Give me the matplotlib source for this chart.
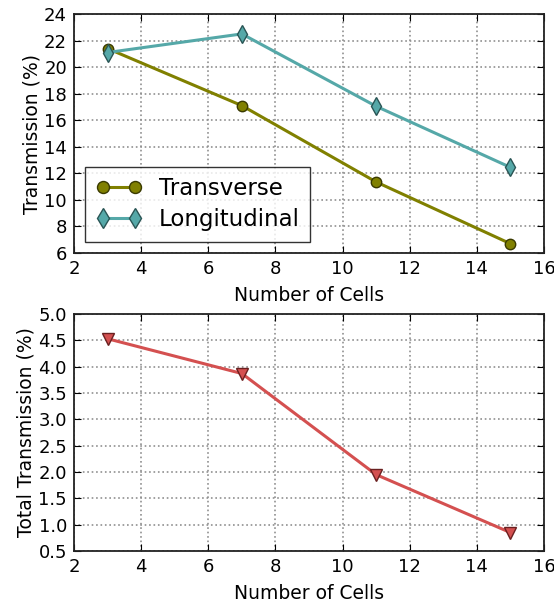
import numpy as np
import matplotlib
matplotlib.use("Agg")
import matplotlib.pyplot as plt

cells = [3, 7, 11, 15]
transverse = [21.4, 17.1, 11.35, 6.7]
longitudinal = [21.1, 22.5, 17.05, 12.45]
total = [4.53, 3.87, 1.95, 0.85]

plt.rcParams["font.family"] = ["DejaVu Sans"]
plt.rcParams["xtick.direction"] = "in"
plt.rcParams["ytick.direction"] = "in"

fig = plt.figure(figsize=(5.54, 6.11), dpi=100)
W, H = 554, 611
ax1 = fig.add_axes([74 / W, 1 - 253 / H, 470 / W, 239 / H])
ax2 = fig.add_axes([74 / W, 1 - 551 / H, 470 / W, 237 / H])

ax1.plot(cells, transverse, "-o", color="#808000", lw=2.2, ms=7.5,
         mfc="#808000", mec="#3a3a00", label="Transverse")
ax1.plot(cells, longitudinal, "-d", color="#55a8a8", lw=2.2, ms=9,
         mfc="#55a8a8", mec="#2a5555", label="Longitudinal")
ax1.set_xlim(2, 16)
ax1.set_ylim(6, 24)
ax1.set_yticks(np.arange(6, 25, 2))
ax1.set_xlabel("Number of Cells", fontsize=13.5, labelpad=6)
ax1.set_ylabel("Transmission (%)", fontsize=13.5, labelpad=2)
leg = ax1.legend(loc="lower left", fontsize=16.5, fancybox=False, numpoints=2,
                 borderaxespad=0.5, handlelength=2.0, handletextpad=0.75,
                 labelspacing=0.35, borderpad=0.45, markerscale=1.15)
leg.get_frame().set_edgecolor("black")
leg.get_frame().set_linewidth(1.0)

ax2.plot(cells, total, "-v", color="#d45050", lw=2.2, ms=8.5,
         mfc="#d45050", mec="#6a2020")
ax2.set_xlim(2, 16)
ax2.set_ylim(0.5, 5.0)
ax2.set_yticks(np.arange(0.5, 5.01, 0.5))
ax2.set_xlabel("Number of Cells", fontsize=13.5, labelpad=6)
ax2.set_ylabel("Total Transmission (%)", fontsize=13.5, labelpad=2)

for ax in (ax1, ax2):
    ax.grid(True, linestyle=":", color="#909090", lw=1.2)
    ax.tick_params(labelsize=13, length=5, top=True, right=True, pad=5)
    for s in ax.spines.values():
        s.set_linewidth(1.3)
        s.set_color("#222222")

fig.savefig("out.png", dpi=100)
